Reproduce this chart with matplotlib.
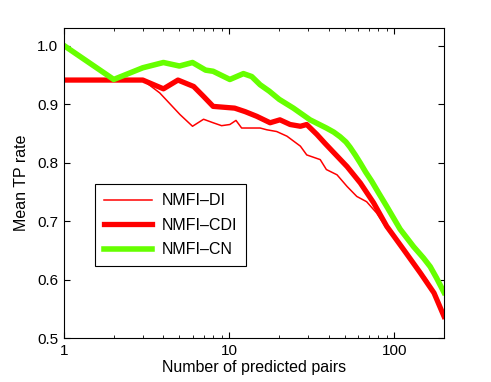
import numpy as np
import matplotlib
matplotlib.use('Agg')
import matplotlib.pyplot as plt
plt.rcParams['font.family'] = ['Liberation Sans', 'DejaVu Sans']

# NMFI-DI (thin red)
di_n = [1, 2, 3, 3.8, 5.04, 6, 7, 8, 9, 10.1, 11, 11.9, 15.4, 16.9, 19.4, 22.4, 27, 29.5,
        35.6, 38.8, 45, 51.8, 59.3, 68, 78, 90, 119, 158, 200]
di_v = [0.941, 0.941, 0.941, 0.919, 0.882, 0.862, 0.874, 0.868, 0.863, 0.865, 0.872, 0.859,
        0.859, 0.856, 0.853, 0.845, 0.828, 0.813, 0.805, 0.788, 0.779, 0.759, 0.742, 0.733,
        0.714, 0.687, 0.645, 0.599, 0.540]

# NMFI-CDI (thick red)
cdi_n = [1, 2, 3, 4, 4.9, 6.1, 7, 8, 10.8, 12.5, 14.7, 17.7, 20.3, 23.4, 27, 29.5, 34, 38,
         43, 51.8, 62.3, 75, 90, 114, 144, 174, 200]
cdi_v = [0.941, 0.941, 0.941, 0.926, 0.941, 0.930, 0.913, 0.896, 0.893, 0.887, 0.879, 0.868,
         0.873, 0.865, 0.862, 0.865, 0.848, 0.833, 0.817, 0.793, 0.765, 0.731, 0.691, 0.651,
         0.611, 0.577, 0.537]

# NMFI-CN (green)
cn_n = [1, 2, 3, 4, 5, 6, 7.2, 8, 10.1, 12.2, 13.7, 15.4, 17.5, 20.1, 24.5, 30.9, 38.8, 43,
        47, 51, 54, 58, 62.3, 67, 73, 80, 90, 100, 108.5, 120, 131, 150, 165, 180, 200]
cn_v = [1.0, 0.942, 0.962, 0.971, 0.965, 0.971, 0.958, 0.956, 0.942, 0.952, 0.947, 0.933,
        0.922, 0.908, 0.893, 0.873, 0.859, 0.852, 0.844, 0.835, 0.826, 0.813, 0.799, 0.784,
        0.768, 0.749, 0.725, 0.703, 0.686, 0.670, 0.656, 0.637, 0.622, 0.603, 0.578]

fig = plt.figure(figsize=(4.91, 3.82), dpi=100)
ax = fig.add_axes([64/491, 1-338/382, 380/491, 310/382])

ax.plot(di_n, di_v, color='#ff0000', lw=1.1, label='NMFI–DI')
ax.plot(cdi_n, cdi_v, color='#ff0000', lw=3.8, label='NMFI–CDI')
ax.plot(cn_n, cn_v, color='#66ff00', lw=4.0, label='NMFI–CN')

ax.set_xscale('log')
ax.set_xlim(1, 200)
ax.set_ylim(0.5, 1.03)
ax.set_yticks([0.5, 0.6, 0.7, 0.8, 0.9, 1.0])
ax.set_yticklabels(['0.5', '0.6', '0.7', '0.8', '0.9', '1.0'])
ax.set_xticks([1, 10, 100])
ax.set_xticklabels(['1', '10', '100'])
ax.tick_params(which='both', direction='in', top=True, right=True, labelsize=11)
ax.tick_params(which='major', length=4, pad=4)
ax.tick_params(which='minor', length=2.5)
ax.set_xlabel('Number of predicted pairs', fontsize=11.5, labelpad=2)
ax.set_ylabel('Mean TP rate', fontsize=11.5, labelpad=6)

leg = ax.legend(loc='lower left', bbox_to_anchor=(0.082, 0.232), borderaxespad=0,
                fontsize=11.5, handlelength=3.0, fancybox=False, edgecolor='black',
                framealpha=1, borderpad=0.55, labelspacing=0.6, handletextpad=0.6)
leg.get_frame().set_linewidth(0.8)

fig.savefig('out.png', dpi=100)
